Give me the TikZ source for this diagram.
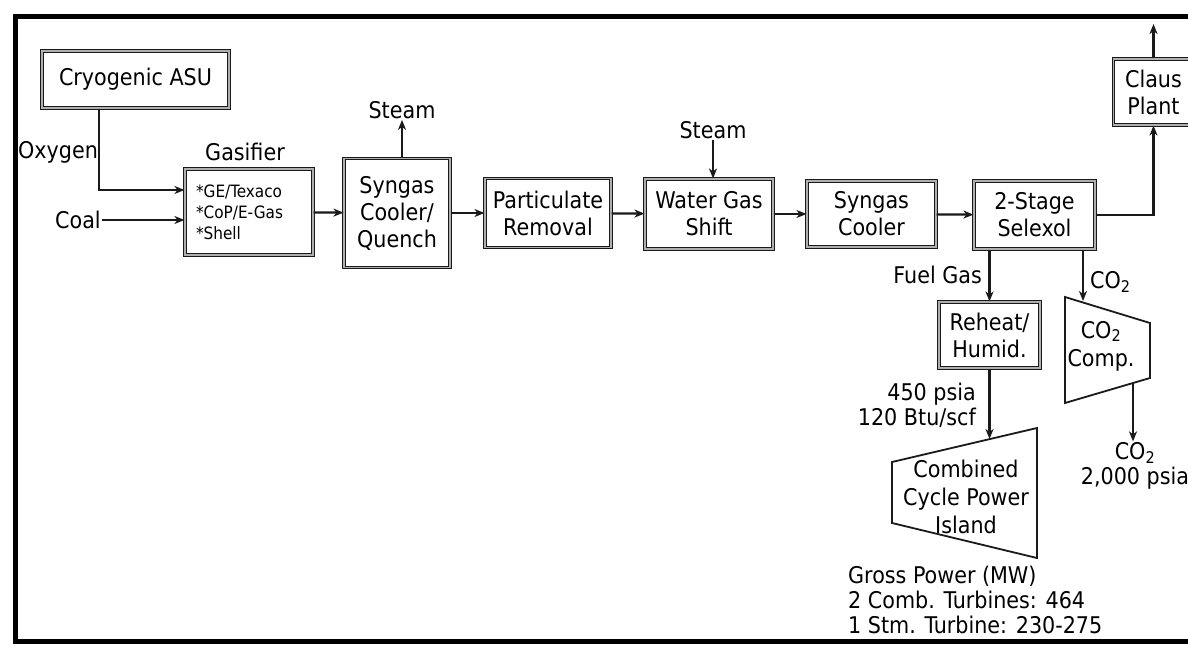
\documentclass[tikz,border=0pt]{standalone}
\usepackage{fontspec}
\setmainfont{DejaVu Sans Condensed}
\usetikzlibrary{arrows.meta,positioning,calc}
\definecolor{inkgrey}{HTML}{1A1A1A}
\definecolor{rimgrey}{HTML}{8C8C8C}
\tikzset{
  boxy/.style   = {draw=inkgrey, double=rimgrey!70, double distance=1.4pt, line width=1.1pt,
                   fill=white, text=black, align=center, inner sep=2pt,
                   font=\fontsize{23}{27}\selectfont},
  tag/.style    = {align=center, inner sep=1pt, font=\fontsize{23}{27}\selectfont},
  smalltag/.style = {align=left, inner sep=1pt, font=\fontsize{17}{21}\selectfont},
  flow/.style   = {-{Stealth[length=10pt,width=8pt,inset=3pt]}, draw=inkgrey, line width=2.2pt},
  turbine/.style = {draw=inkgrey, line width=1.8pt, line join=miter},
  frameline/.style = {draw=black, line width=5pt},
}

\begin{document}
\begin{tikzpicture}[x=1pt,y=-1pt]
    \clip (0,0) rectangle (1188,648);
    \draw[frameline] (1200,16) -- (15,16) -- (15,641) -- (1200,641);
    % main train
    \node[boxy,minimum width=187pt,minimum height=57pt] (asu) at (135.5,79.5) {Cryogenic ASU};
    \node[boxy,minimum width=128pt,minimum height=86pt] (gas) at (249,212) {};
    \node[smalltag,text width=106pt] at (gas) {*GE/Texaco\\{}*CoP/E-Gas\\{}*Shell};
    \node[boxy,minimum width=106pt,minimum height=109pt] (quench) at (397,213) {Syngas\\Cooler/\\Quench};
    \node[boxy,minimum width=126pt,minimum height=69pt] (part) at (548,213) {Particulate\\Removal};
    \node[boxy,minimum width=128pt,minimum height=70pt] (wgs) at (709,214) {Water Gas\\Shift};
    \node[boxy,minimum width=129pt,minimum height=66pt] (cool) at (871.5,214) {Syngas\\Cooler};
    \node[boxy,minimum width=121pt,minimum height=68pt] (sel) at (1034.5,215) {2-Stage\\Selexol};
    \node[boxy,minimum width=80pt,minimum height=66pt] (claus) at (1153.5,92) {Claus\\Plant};
    \node[boxy,minimum width=101pt,minimum height=66pt] (reheat) at (989.5,335) {Reheat/\\Humid.};
    % labels
    \node[tag,anchor=west] (oxy) at (17,152) {Oxygen};
    \node[tag] (coal) at (78,220) {Coal};
    \node[tag] (gaslbl) at (245,152) {Gasifier};
    \node[tag] (steamA) at (402,110) {Steam};
    \node[tag] (steamB) at (713,130) {Steam};
    \node[tag,anchor=east] (fuel) at (983,275) {Fuel Gas};
    \node[tag,anchor=west] (co2a) at (1089,282) {CO\textsubscript{2}};
    \node[tag,align=right,anchor=east,font=\fontsize{23}{25}\selectfont] (lhv) at (977,405) {450 psia\\120 Btu/scf};
    \node[tag,font=\fontsize{23}{25}\selectfont] (co2out) at (1135,466) {CO\textsubscript{2}\\2,000 psia};
    \node[tag,align=left,anchor=west,font=\fontsize{23}{25}\selectfont] (gross) at (847,600)
        {Gross Power (MW)\\2 Comb. Turbines: 464\\1 Stm. Turbine: 230-275};
    % turbines
    \coordinate (ccpi-tl) at (892,462); \coordinate (ccpi-tr) at (1037,428);
    \coordinate (ccpi-br) at (1037,558); \coordinate (ccpi-bl) at (892,523);
    \draw[turbine] (ccpi-tl) -- (ccpi-tr) -- (ccpi-br) -- (ccpi-bl) -- cycle;
    \node[tag,font=\fontsize{23}{28}\selectfont] (ccpi) at (966,497) {Combined\\Cycle Power\\Island};
    \coordinate (cmp-tl) at (1065,297); \coordinate (cmp-tr) at (1150,323);
    \coordinate (cmp-br) at (1150,378); \coordinate (cmp-bl) at (1065,403);
    \draw[turbine] (cmp-tl) -- (cmp-tr) -- (cmp-br) -- (cmp-bl) -- cycle;
    \node[tag,font=\fontsize{23}{28}\selectfont] (cmp) at (1101,346) {CO\textsubscript{2}\\Comp.};
    \coordinate (o2) at (99,190);
    \coordinate (vent) at (1152,24);
    \coordinate (ccpi-in) at (989,439);
    \coordinate (cmp-in) at (1083,301);
    \coordinate (cmp-out) at (1133,383);
    % flows
    \draw[flow] (asu.south -| o2) |- (o2 -| gas.west);
    \draw[flow] (coal) -- (coal -| gas.west);
    \draw[flow] (gas) -- (quench); \draw[flow] (quench) -- (part);
    \draw[flow] (part) -- (wgs); \draw[flow] (wgs) -- (cool); \draw[flow] (cool) -- (sel);
    \draw[flow] (quench.north -| steamA) -- (steamA.south);
    \draw[flow] (steamB.south) -- (steamB |- wgs.north);
    \draw[flow] (sel.east) -| (claus.south);
    \draw[flow] (claus.north) -- (claus.north |- vent);
    \draw[flow] (reheat |- sel.south) -- (reheat.north);
    \draw[flow] (sel.south -| cmp-in) -- (cmp-in);
    \draw[flow] (reheat.south) -- (reheat.south |- ccpi-in);
    \draw[flow] (cmp-out) -- (cmp-out |- co2out.north);
\end{tikzpicture}
\end{document}
